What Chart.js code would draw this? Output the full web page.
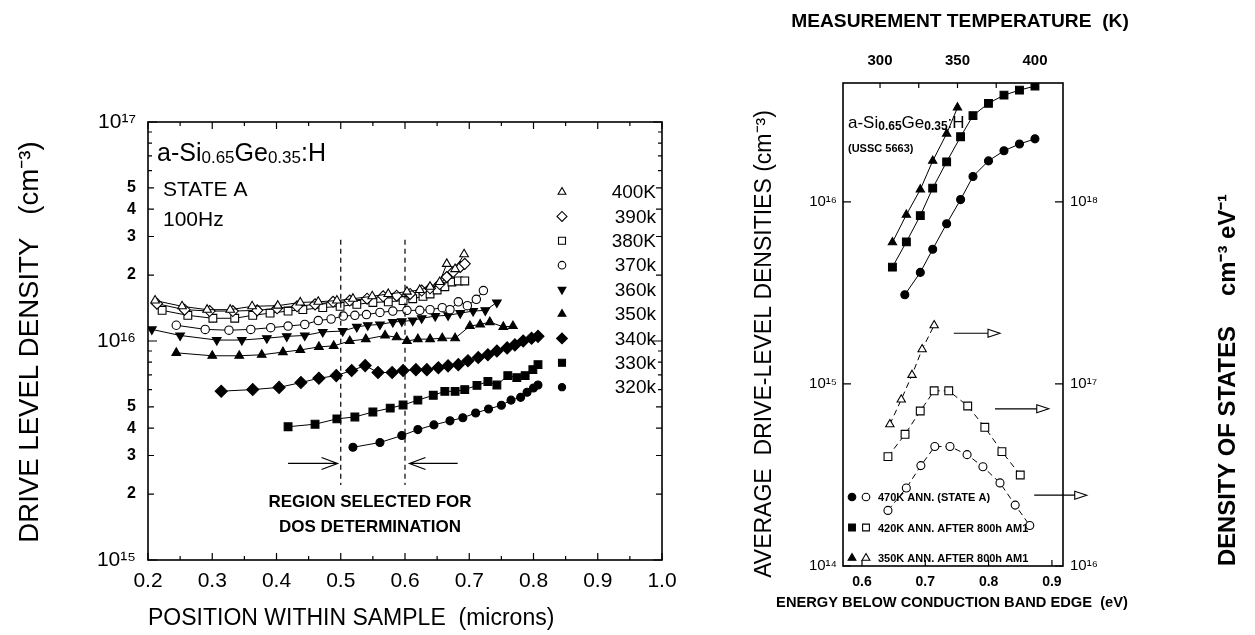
<!DOCTYPE html>
<html>
<head>
<meta charset="utf-8">
<script src="https://cdn.jsdelivr.net/npm/chart.js@4.4.1/dist/chart.umd.min.js"></script>
<style>
  html, body { margin: 0; padding: 0; background: #fff; }
  #wrap { position: relative; width: 1255px; height: 635px; overflow: hidden; }
  canvas { position: absolute; top: 0; }
  #left { left: 0; }
  #right { left: 700px; }
</style>
</head>
<body>
<div id="wrap">
  <canvas id="left" width="700" height="635"></canvas>
  <canvas id="right" width="555" height="635"></canvas>
</div>
<script>
const FONT = '"Liberation Sans", Arial, Helvetica, sans-serif';
Chart.defaults.color = '#000';
Chart.defaults.font.family = FONT;

// ---------- left panel: drive level density vs position (100 Hz, state A) ----------
const leftLabels = ['400K', '390k', '380K', '370k', '360k', '350k', '340k', '330k', '320k'];

const pos400 = [0.211, 0.253, 0.292, 0.328, 0.362, 0.402, 0.437, 0.465, 0.494, 0.519, 0.549, 0.574, 0.603, 0.623, 0.639, 0.654, 0.665, 0.678, 0.692];
const dld400 = [1.53e16, 1.44e16, 1.39e16, 1.39e16, 1.44e16, 1.45e16, 1.50e16, 1.51e16, 1.53e16, 1.56e16, 1.60e16, 1.64e16, 1.68e16, 1.71e16, 1.77e16, 1.86e16, 2.25e16, 2.13e16, 2.49e16];

const pos390 = [0.214, 0.257, 0.296, 0.332, 0.370, 0.401, 0.432, 0.460, 0.488, 0.514, 0.541, 0.566, 0.587, 0.608, 0.626, 0.639, 0.654, 0.665, 0.675, 0.686, 0.693];
const dld390 = [1.48e16, 1.39e16, 1.37e16, 1.37e16, 1.38e16, 1.41e16, 1.44e16, 1.47e16, 1.51e16, 1.53e16, 1.56e16, 1.60e16, 1.61e16, 1.64e16, 1.70e16, 1.74e16, 1.82e16, 1.96e16, 2.07e16, 2.18e16, 2.25e16];

const pos380 = [0.222, 0.262, 0.301, 0.335, 0.363, 0.390, 0.418, 0.441, 0.472, 0.499, 0.525, 0.550, 0.574, 0.597, 0.612, 0.628, 0.639, 0.650, 0.662, 0.673, 0.683, 0.693];
const dld380 = [1.38e16, 1.31e16, 1.27e16, 1.27e16, 1.31e16, 1.34e16, 1.37e16, 1.39e16, 1.42e16, 1.44e16, 1.47e16, 1.50e16, 1.51e16, 1.53e16, 1.56e16, 1.60e16, 1.64e16, 1.71e16, 1.77e16, 1.86e16, 1.88e16, 1.88e16];

const pos370 = [0.244, 0.289, 0.326, 0.360, 0.391, 0.418, 0.444, 0.465, 0.485, 0.504, 0.522, 0.540, 0.561, 0.581, 0.603, 0.623, 0.639, 0.658, 0.670, 0.683, 0.697, 0.711, 0.722];
const dld370 = [1.18e16, 1.13e16, 1.12e16, 1.13e16, 1.15e16, 1.17e16, 1.19e16, 1.24e16, 1.26e16, 1.30e16, 1.31e16, 1.32e16, 1.35e16, 1.37e16, 1.38e16, 1.38e16, 1.39e16, 1.42e16, 1.39e16, 1.51e16, 1.45e16, 1.55e16, 1.70e16];

const pos360 = [0.206, 0.250, 0.307, 0.346, 0.385, 0.416, 0.444, 0.472, 0.503, 0.525, 0.542, 0.561, 0.581, 0.595, 0.612, 0.626, 0.647, 0.667, 0.686, 0.706, 0.725, 0.743];
const dld360 = [1.13e16, 1.06e16, 1.01e16, 1.01e16, 1.03e16, 1.05e16, 1.06e16, 1.10e16, 1.11e16, 1.16e16, 1.18e16, 1.19e16, 1.22e16, 1.23e16, 1.24e16, 1.27e16, 1.30e16, 1.31e16, 1.34e16, 1.37e16, 1.38e16, 1.50e16];

const pos350 = [0.244, 0.300, 0.342, 0.377, 0.410, 0.437, 0.466, 0.489, 0.514, 0.539, 0.569, 0.587, 0.603, 0.620, 0.639, 0.658, 0.678, 0.701, 0.717, 0.732, 0.753, 0.768];
const dld350 = [8.83e15, 8.56e15, 8.56e15, 8.65e15, 8.90e15, 9.10e15, 9.40e15, 9.50e15, 1.00e16, 1.02e16, 1.06e16, 1.04e16, 1.00e16, 1.02e16, 1.02e16, 1.03e16, 1.03e16, 1.17e16, 1.19e16, 1.22e16, 1.16e16, 1.17e16];

const pos340 = [0.314, 0.363, 0.404, 0.438, 0.466, 0.493, 0.517, 0.538, 0.558, 0.580, 0.597, 0.617, 0.634, 0.652, 0.667, 0.683, 0.698, 0.714, 0.729, 0.743, 0.759, 0.771, 0.784, 0.797, 0.807];
const dld340 = [5.90e15, 6.00e15, 6.14e15, 6.46e15, 6.76e15, 6.95e15, 7.33e15, 7.72e15, 7.18e15, 7.18e15, 7.33e15, 7.40e15, 7.40e15, 7.55e15, 7.70e15, 7.80e15, 8.13e15, 8.40e15, 8.65e15, 9.00e15, 9.30e15, 9.60e15, 1.00e16, 1.03e16, 1.05e16];

const pos330 = [0.418, 0.460, 0.494, 0.522, 0.550, 0.577, 0.597, 0.620, 0.644, 0.662, 0.678, 0.693, 0.712, 0.729, 0.743, 0.760, 0.774, 0.787, 0.799, 0.807];
const dld330 = [4.06e15, 4.17e15, 4.41e15, 4.50e15, 4.74e15, 4.94e15, 5.10e15, 5.37e15, 5.65e15, 5.89e15, 5.89e15, 6.00e15, 6.27e15, 6.53e15, 6.30e15, 6.95e15, 6.80e15, 6.95e15, 7.40e15, 7.80e15];

const pos320 = [0.519, 0.561, 0.595, 0.620, 0.645, 0.670, 0.690, 0.710, 0.730, 0.750, 0.765, 0.780, 0.790, 0.800, 0.807];
const dld320 = [3.27e15, 3.44e15, 3.70e15, 3.94e15, 4.14e15, 4.32e15, 4.46e15, 4.69e15, 4.89e15, 5.09e15, 5.37e15, 5.53e15, 5.83e15, 6.10e15, 6.30e15];

const leftXTicks = [0.2, 0.25, 0.3, 0.35, 0.4, 0.45, 0.5, 0.55, 0.6, 0.65, 0.7, 0.75, 0.8, 0.85, 0.9, 0.95, 1.0];
const leftYTicks = [1e15, 2e15, 3e15, 4e15, 5e15, 6e15, 7e15, 8e15, 9e15,
                    1e16, 2e16, 3e16, 4e16, 5e16, 6e16, 7e16, 8e16, 9e16, 1e17];
const regionBounds = [0.5, 0.6];          // dashed lines
const regionSpan = [2.2e15, 2.9e16];
const arrowLevel = 2.76e15;

// ---------- right panel ----------
// drive-level densities vs measurement temperature (filled, top axis)
const temp350 = [308, 317, 326, 334, 343, 350];
const dens350 = [6.0e15, 8.5e15, 1.17e16, 1.68e16, 2.37e16, 3.3e16];
const temp420 = [308, 317, 326, 334, 343, 352, 360, 370, 380, 390, 400];
const dens420 = [4.38e15, 6.03e15, 8.41e15, 1.19e16, 1.66e16, 2.28e16, 2.98e16, 3.48e16, 3.86e16, 4.11e16, 4.33e16];
const temp470 = [316, 326, 334, 343, 352, 360, 370, 380, 390, 400];
const dens470 = [3.09e15, 4.10e15, 5.50e15, 7.59e15, 1.03e16, 1.38e16, 1.68e16, 1.91e16, 2.08e16, 2.22e16];

// density of states vs energy below conduction band edge (open, bottom axis)
const en350 = [0.644, 0.662, 0.679, 0.695, 0.714];
const dos350 = [6.0e16, 8.2e16, 1.12e17, 1.55e17, 2.10e17];
const en420 = [0.641, 0.668, 0.692, 0.714, 0.737, 0.767, 0.794, 0.821, 0.850];
const dos420 = [3.99e16, 5.29e16, 7.10e16, 9.17e16, 9.17e16, 7.57e16, 5.78e16, 4.25e16, 3.16e16];
const en470 = [0.641, 0.670, 0.693, 0.715, 0.739, 0.766, 0.791, 0.818, 0.842, 0.865];
const dos470 = [2.02e16, 2.68e16, 3.56e16, 4.53e16, 4.53e16, 4.09e16, 3.51e16, 2.86e16, 2.16e16, 1.67e16];

const rightLegend = ['470K ANN. (STATE A)', '420K ANN. AFTER 800h AM1', '350K ANN. AFTER 800h AM1'];
const eTicks = [0.6, 0.7, 0.8, 0.9];
const tTicks = [300, 325, 350, 375, 400];
const dldTicks = [1e14, 1e15, 1e16];
const dosTicks = [1e16, 1e17, 1e18];
// arrows pointing at the DOS axis: [fromE, toE, level]
const dosArrows = [[0.745, 0.818, 1.9e17], [0.810, 0.895, 7.3e16], [0.872, 0.955, 2.45e16]];

// ---------- helpers ----------
const SUP = { '0': '⁰', '1': '¹', '2': '²', '3': '³', '4': '⁴', '5': '⁵', '6': '⁶', '7': '⁷', '8': '⁸', '9': '⁹', '-': '⁻' };
const pow10 = n => '10' + String(n).split('').map(c => SUP[c]).join('');
const isDecade = v => Math.abs(Math.log10(v) - Math.round(Math.log10(v))) < 1e-9;
const mant = v => Math.round(v / Math.pow(10, Math.floor(Math.log10(v) + 1e-9)));

function pts(xs, ys) { return xs.map((x, i) => ({ x, y: ys[i] })); }

function richText(ctx, x, y, parts) {
  for (const [t, px, dy, w] of parts) {
    ctx.font = (w || '') + ' ' + px + 'px ' + FONT;
    ctx.fillText(t, x, y + (dy || 0));
    x += ctx.measureText(t).width;
  }
}

// set a font whose rendered width of `text` equals `target`
function fitFont(ctx, text, weight, target) {
  ctx.font = weight + ' 20px ' + FONT;
  const s = 20 * target / ctx.measureText(text).width;
  ctx.font = weight + ' ' + s.toFixed(2) + 'px ' + FONT;
}

function rotText(ctx, text, x, y) {
  ctx.save();
  ctx.translate(x, y);
  ctx.rotate(-Math.PI / 2);
  ctx.fillText(text, 0, 0);
  ctx.restore();
}

function mark(ctx, style, rot, r, filled, x, y) {
  ctx.save();
  ctx.fillStyle = filled ? '#000' : '#fff';
  ctx.strokeStyle = '#000';
  ctx.lineWidth = 1.1;
  Chart.helpers.drawPoint(ctx, { pointStyle: style, rotation: rot, radius: r, borderWidth: 1.1 }, x, y);
  ctx.restore();
}

function inTicks(ctx, scale, area, sides, lenFn) {
  ctx.beginPath();
  for (const t of scale.ticks) {
    const p = scale.getPixelForValue(t.value);
    const L = lenFn(t.value);
    for (const s of sides) {
      if (s === 'bottom') { ctx.moveTo(p, area.bottom); ctx.lineTo(p, area.bottom - L); }
      if (s === 'top') { ctx.moveTo(p, area.top); ctx.lineTo(p, area.top + L); }
      if (s === 'left') { ctx.moveTo(area.left, p); ctx.lineTo(area.left + L, p); }
      if (s === 'right') { ctx.moveTo(area.right, p); ctx.lineTo(area.right - L, p); }
    }
  }
  ctx.stroke();
}

function series(xs, ys, style, filled, r, extra) {
  return Object.assign({
    data: pts(xs, ys), showLine: true, borderColor: '#000', borderWidth: 1,
    pointStyle: style, pointRadius: r, pointBorderWidth: 1.1,
    pointBackgroundColor: filled ? '#000' : '#fff', pointBorderColor: '#000'
  }, extra || {});
}

const noGrid = { display: false, drawTicks: false };

// ---------- left chart ----------
const leftStyles = [
  ['triangle', 0, 5, false], ['rectRot', 0, 5.5, false], ['rect', 0, 5.5, false],
  ['circle', 0, 4.2, false], ['triangle', 180, 5, true], ['triangle', 0, 5, true],
  ['rectRot', 0, 6, true], ['rect', 0, 5.5, true], ['circle', 0, 4, true]
];
const leftX = [pos400, pos390, pos380, pos370, pos360, pos350, pos340, pos330, pos320];
const leftY = [dld400, dld390, dld380, dld370, dld360, dld350, dld340, dld330, dld320];

const leftDecor = {
  id: 'leftDecor',
  afterDraw(chart) {
    const { ctx, chartArea: a, scales: { x, y } } = chart;
    ctx.save();
    ctx.strokeStyle = '#000';
    ctx.lineWidth = 1.6;
    ctx.strokeRect(a.left, a.top, a.right - a.left, a.bottom - a.top);
    ctx.lineWidth = 1.2;
    inTicks(ctx, y, a, ['left', 'right'], v => isDecade(v) ? 9 : (mant(v) <= 5 ? 6 : 4));
    inTicks(ctx, x, a, ['bottom', 'top'], v => Math.abs(v * 10 - Math.round(v * 10)) < 1e-6 ? 7 : 4);

    // dashed region lines
    ctx.setLineDash([5, 4]);
    ctx.lineWidth = 1.2;
    for (const b of regionBounds) {
      const px = x.getPixelForValue(b);
      ctx.beginPath();
      ctx.moveTo(px, y.getPixelForValue(regionSpan[1]));
      ctx.lineTo(px, y.getPixelForValue(regionSpan[0]));
      ctx.stroke();
    }
    ctx.setLineDash([]);

    // arrows
    const ay = y.getPixelForValue(arrowLevel);
    const drawArrow = (x1, x2) => {
      const d = Math.sign(x2 - x1);
      ctx.beginPath();
      ctx.moveTo(x1, ay); ctx.lineTo(x2, ay);
      ctx.moveTo(x2 - d * 16, ay - 6); ctx.lineTo(x2, ay); ctx.lineTo(x2 - d * 16, ay + 6);
      ctx.stroke();
    };
    drawArrow(x.getPixelForValue(0.418), x.getPixelForValue(0.495));
    drawArrow(x.getPixelForValue(0.682), x.getPixelForValue(0.607));

    ctx.fillStyle = '#000';
    ctx.textBaseline = 'alphabetic';
    ctx.textAlign = 'left';
    richText(ctx, a.left + 9, 161, [['a-Si', 25], ['0.65', 17, 2], ['Ge', 25], ['0.35', 17, 2], [':H', 25]]);
    ctx.font = '21px ' + FONT;
    ctx.fillText('STATE A', a.left + 15, 196);
    ctx.fillText('100Hz', a.left + 15, 226);

    ctx.textAlign = 'center';
    ctx.font = 'bold 17px ' + FONT;
    ctx.fillText('REGION SELECTED FOR', 370, 507);
    ctx.fillText('DOS DETERMINATION', 370, 532);

    // legend
    ctx.textAlign = 'right';
    ctx.textBaseline = 'middle';
    leftLabels.forEach((lab, i) => {
      const ly = 192 + i * 24.4;
      const [st, rot, r, f] = leftStyles[i];
      mark(ctx, st, rot, r * 0.9, f, 562, ly);
      ctx.fillStyle = '#000';
      ctx.font = '19px ' + FONT;
      ctx.fillText(lab, 656, ly + 1);
    });

    // y title, reading bottom to top
    ctx.textAlign = 'center';
    const yTitle = 'DRIVE LEVEL DENSITY   (cm⁻³)';
    fitFont(ctx, yTitle, 'normal', 402);
    rotText(ctx, yTitle, 30, 342);
    ctx.restore();
  }
};

new Chart(document.getElementById('left'), {
  type: 'scatter',
  data: {
    datasets: leftLabels.map((lab, i) => {
      const [st, rot, r, f] = leftStyles[i];
      return series(leftX[i], leftY[i], st, f, r, { label: lab, pointRotation: rot });
    })
  },
  options: {
    responsive: false, animation: false, devicePixelRatio: 1,
    layout: { padding: { left: 0, right: 38, top: 122, bottom: 0 } },
    plugins: { legend: { display: false }, tooltip: { enabled: false } },
    scales: {
      x: {
        type: 'linear', min: 0.2, max: 1.0,
        grid: noGrid, border: { display: false },
        afterBuildTicks: s => { s.ticks = leftXTicks.map(v => ({ value: v })); },
        afterFit: s => { s.height = 75; },
        ticks: {
          autoSkip: false, maxRotation: 0, padding: 9, font: { size: 21 },
          callback: v => Math.abs(v * 10 - Math.round(v * 10)) < 1e-6 ? v.toFixed(1) : ''
        },
        title: { display: true, text: 'POSITION WITHIN SAMPLE  (microns)', align: 'start',
                 font: { size: 23 }, padding: { top: 0, bottom: 3 } }
      },
      y: {
        type: 'logarithmic', min: 1e15, max: 1e17,
        grid: noGrid, border: { display: false },
        afterBuildTicks: s => { s.ticks = leftYTicks.map(v => ({ value: v })); },
        afterFit: s => { s.width = 148; },
        ticks: {
          autoSkip: false, padding: 12,
          font: c => (c.tick && isDecade(c.tick.value)) ? { size: 21 } : { size: 16, weight: 'bold' },
          callback: v => isDecade(v) ? pow10(Math.round(Math.log10(v))) : (mant(v) <= 5 ? String(mant(v)) : '')
        }
      }
    }
  },
  plugins: [leftDecor]
});

// ---------- right chart ----------
const rightDecor = {
  id: 'rightDecor',
  afterDraw(chart) {
    const { ctx, chartArea: a, scales: { x, x2, y, y2 } } = chart;
    ctx.save();
    ctx.strokeStyle = '#000';
    ctx.lineWidth = 1.6;
    ctx.strokeRect(a.left, a.top, a.right - a.left, a.bottom - a.top);
    ctx.lineWidth = 1.2;
    inTicks(ctx, y, a, ['left'], () => 8);
    inTicks(ctx, y2, a, ['right'], () => 8);
    inTicks(ctx, x, a, ['bottom'], () => 6);
    inTicks(ctx, x2, a, ['top'], () => 5);

    // arrows to the DOS axis
    ctx.lineWidth = 1.1;
    for (const [e1, e2, lvl] of dosArrows) {
      const x1 = x.getPixelForValue(e1), xe = x.getPixelForValue(e2), py = y2.getPixelForValue(lvl);
      ctx.beginPath();
      ctx.moveTo(x1, py); ctx.lineTo(xe - 12, py);
      ctx.moveTo(xe - 12, py - 4); ctx.lineTo(xe, py); ctx.lineTo(xe - 12, py + 4); ctx.closePath();
      ctx.stroke();
    }

    ctx.fillStyle = '#000';
    ctx.textAlign = 'left';
    ctx.textBaseline = 'alphabetic';
    richText(ctx, a.left + 5, 128, [['a-Si', 17], ['0.65', 12, 2, 'bold'], ['Ge', 17], ['0.35', 12, 2, 'bold'], [':H', 17]]);
    ctx.font = 'bold 11px ' + FONT;
    ctx.fillText('(USSC 5663)', a.left + 5, 152);

    // legend
    const st = [['circle', 0, 3.8], ['rect', 0, 4.8], ['triangle', 0, 4.5]];
    ctx.textBaseline = 'middle';
    rightLegend.forEach((lab, i) => {
      const ly = 497 + i * 30.5;
      mark(ctx, st[i][0], 0, st[i][2], true, a.left + 9, ly);
      mark(ctx, st[i][0], 0, st[i][2], false, a.left + 23, ly);
      ctx.fillStyle = '#000';
      ctx.font = 'bold 11px ' + FONT;
      ctx.fillText(lab, a.left + 35, ly + 1);
    });

    // axis titles
    ctx.textAlign = 'center';
    ctx.textBaseline = 'middle';
    const title1 = 'MEASUREMENT TEMPERATURE  (K)';
    fitFont(ctx, title1, 'bold', 338);
    ctx.fillText(title1, 260, 22);
    const title2 = 'ENERGY BELOW CONDUCTION BAND EDGE  (eV)';
    fitFont(ctx, title2, 'bold', 352);
    ctx.fillText(title2, 252, 603);
    const title3 = 'AVERAGE  DRIVE-LEVEL DENSITIES (cm⁻³)';
    fitFont(ctx, title3, 'normal', 468);
    rotText(ctx, title3, 65, 344);
    // right title, reading bottom to top, in two pieces
    ctx.textAlign = 'left';
    fitFont(ctx, 'DENSITY OF STATES', 'bold', 240);
    rotText(ctx, 'DENSITY OF STATES', 528, 566);
    rotText(ctx, 'cm⁻³ eV⁻¹', 528, 296);
    ctx.restore();
  }
};

const dash = { borderDash: [6, 4] };
new Chart(document.getElementById('right'), {
  type: 'scatter',
  data: {
    datasets: [
      series(temp470, dens470, 'circle', true, 4, { xAxisID: 'x2', yAxisID: 'y' }),
      series(temp420, dens420, 'rect', true, 5.5, { xAxisID: 'x2', yAxisID: 'y' }),
      series(temp350, dens350, 'triangle', true, 4.8, { xAxisID: 'x2', yAxisID: 'y' }),
      series(en470, dos470, 'circle', false, 4, Object.assign({ xAxisID: 'x', yAxisID: 'y2' }, dash)),
      series(en420, dos420, 'rect', false, 5.5, Object.assign({ xAxisID: 'x', yAxisID: 'y2' }, dash)),
      series(en350, dos350, 'triangle', false, 4.8, Object.assign({ xAxisID: 'x', yAxisID: 'y2' }, dash))
    ]
  },
  options: {
    responsive: false, animation: false, devicePixelRatio: 1,
    layout: { padding: 0 },
    plugins: { legend: { display: false }, tooltip: { enabled: false } },
    scales: {
      x: {
        type: 'linear', position: 'bottom', min: 0.570, max: 0.9175,
        grid: noGrid, border: { display: false },
        afterBuildTicks: s => { s.ticks = eTicks.map(v => ({ value: v })); },
        afterFit: s => { s.height = 69; },
        ticks: { autoSkip: false, maxRotation: 0, padding: 8, font: { size: 14, weight: 'bold' },
                 callback: v => v.toFixed(1) }
      },
      x2: {
        type: 'linear', position: 'top', min: 276.1, max: 418.1,
        grid: noGrid, border: { display: false },
        afterBuildTicks: s => { s.ticks = tTicks.map(v => ({ value: v })); },
        afterFit: s => { s.height = 83; },
        ticks: { autoSkip: false, maxRotation: 0, padding: 13, font: { size: 15, weight: 'bold' },
                 callback: v => v % 50 === 0 ? String(v) : '' }
      },
      y: {
        type: 'logarithmic', position: 'left', min: 1e14, max: 4.5e16,
        grid: noGrid, border: { display: false },
        afterBuildTicks: s => { s.ticks = dldTicks.map(v => ({ value: v })); },
        afterFit: s => { s.width = 143; },
        ticks: { autoSkip: false, padding: 6, font: { size: 15 },
                 callback: v => pow10(Math.round(Math.log10(v))) }
      },
      y2: {
        type: 'logarithmic', position: 'right', min: 1e16, max: 4.5e18,
        grid: noGrid, border: { display: false },
        afterBuildTicks: s => { s.ticks = dosTicks.map(v => ({ value: v })); },
        afterFit: s => { s.width = 192; },
        ticks: { autoSkip: false, padding: 7, font: { size: 15 },
                 callback: v => pow10(Math.round(Math.log10(v))) }
      }
    }
  },
  plugins: [rightDecor]
});
</script>
</body>
</html>
